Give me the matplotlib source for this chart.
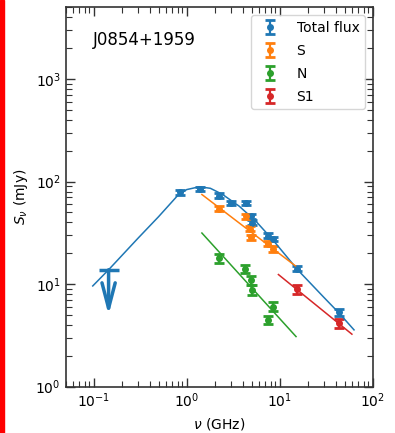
import numpy as np
import matplotlib
matplotlib.use('Agg')
import matplotlib.pyplot as plt
from matplotlib.patches import Rectangle

# measured points (GHz, mJy)
tot_freq = [0.855, 1.40, 2.24, 3.0, 4.35, 4.92, 5.04, 7.42, 8.53, 15.2, 43.0]
tot_flux = [78.8, 85.1, 73.1, 62.1, 62.1, 45.9, 39.6, 29.7, 27.6, 14.1, 5.29]
tot_err = [4.0, 4.0, 3.7, 3.1, 3.1, 2.5, 2.2, 1.6, 1.5, 0.8, 0.4]

s_freq = [2.24, 4.35, 4.79, 4.92, 7.42, 8.38]
s_flux = [54.2, 45.9, 34.8, 28.6, 24.8, 22.0]
s_err = [3.0, 2.8, 2.1, 1.7, 1.5, 1.3]

n_freq = [2.24, 4.27, 4.92, 5.0, 8.38, 7.54]
n_flux = [18.0, 14.1, 11.0, 8.8, 6.05, 4.49]
n_err = [1.8, 1.4, 1.1, 0.9, 0.6, 0.45]

s1_freq = [15.2, 43.0]
s1_flux = [8.96, 4.17]
s1_err = [0.9, 0.4]

# upper limit (low frequency)
ul_freq = [0.145]
ul_flux = [13.8]
ul_tip = [5.0]

# fitted curves
fit_tot_freq = [0.098, 0.145, 0.3, 0.5, 0.8, 1.0, 1.37, 1.8, 2.43, 3.68, 5.56, 8.39, 15.6, 30.0, 43.7, 63.0]
fit_tot_flux = [9.6, 13.8, 28.0, 45.5, 73.0, 83.5, 89.0, 86.0, 75.0, 57.5, 41.0, 27.2, 13.8, 7.4, 5.2, 3.58]
fit_s_freq = [1.46, 15.0]
fit_s_flux = [74.8, 14.9]
fit_n_freq = [1.46, 15.0]
fit_n_flux = [31.5, 3.08]
fit_s1_freq = [9.7, 59.8]
fit_s1_flux = [12.4, 3.25]

c_tot, c_s, c_n, c_s1 = '#1f77b4', '#ff7f0e', '#2ca02c', '#d62728'

fig = plt.figure(figsize=(3.95, 4.33), dpi=100)
ax = fig.add_axes([0.166, 0.107, 0.7775, 0.876])

ekw = dict(fmt='o', ms=4, capsize=3.6, capthick=2, elinewidth=1.6)
ax.errorbar(tot_freq, tot_flux, yerr=tot_err, color=c_tot, label='Total flux', **ekw)
ax.errorbar(s_freq, s_flux, yerr=s_err, color=c_s, label='S', **ekw)
ax.errorbar(n_freq, n_flux, yerr=n_err, color=c_n, label='N', **ekw)
ax.errorbar(s1_freq, s1_flux, yerr=s1_err, color=c_s1, label='S1', **ekw)

ax.plot(fit_tot_freq, fit_tot_flux, color=c_tot, lw=1.1)
ax.plot(fit_s_freq, fit_s_flux, color=c_s, lw=1.1)
ax.plot(fit_n_freq, fit_n_flux, color=c_n, lw=1.1)
ax.plot(fit_s1_freq, fit_s1_flux, color=c_s1, lw=1.1)

# upper limit: bar + arrow
ax.plot(ul_freq, ul_flux, marker='_', ms=15, mew=2.5, color=c_tot, ls='none')
ax.annotate('', xy=(ul_freq[0], ul_tip[0]), xytext=(ul_freq[0], ul_flux[0]),
            arrowprops=dict(arrowstyle='->, head_length=0.65, head_width=0.17', lw=2.5,
                            color=c_tot, mutation_scale=28, shrinkA=0, shrinkB=0))

ax.set_xscale('log')
ax.set_yscale('log')
ax.set_xlim(0.05, 100)
ax.set_ylim(1, 5000)

ax.set_xlabel(r'$\nu$ (GHz)', fontsize=10)
ax.set_ylabel(r'$S_\nu$ (mJy)', fontsize=10)
ax.text(0.09, 0.9, 'J0854+1959', transform=ax.transAxes, fontsize=12)

ax.tick_params(which='both', direction='in', top=True, right=True, labelsize=10, colors='#333333')
ax.tick_params(which='both', labelcolor='black')
ax.tick_params(which='major', length=6.5, width=1)
ax.tick_params(which='minor', length=4, width=0.8)
for sp in ax.spines.values():
    sp.set_color('#333333')
    sp.set_linewidth(1.2)

ax.legend(loc='upper right', fontsize=10, handletextpad=0.9, borderaxespad=0.55,
          labelspacing=0.65, framealpha=0.8)

# red margin line from the page crop
fig.patches.append(Rectangle((0, 0), 4 / 395, 1, transform=fig.transFigure,
                             color='red', zorder=10))

fig.savefig('out.png', dpi=100)
